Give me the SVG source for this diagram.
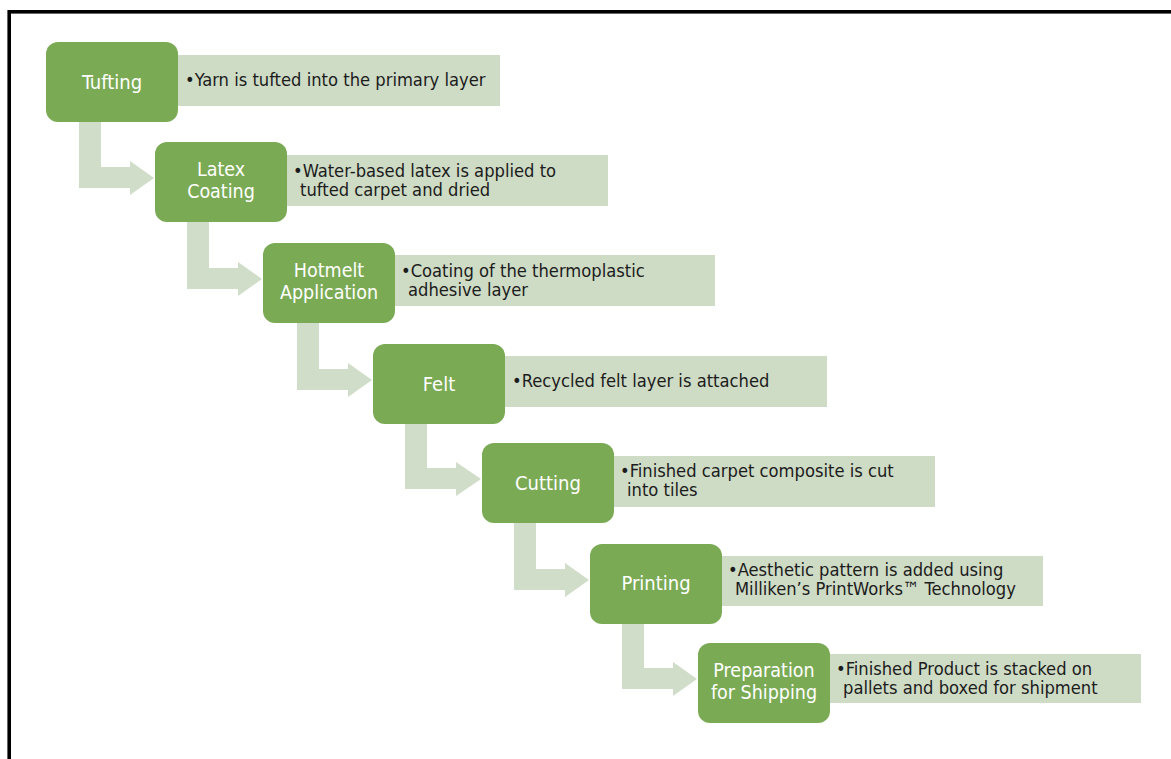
<svg xmlns="http://www.w3.org/2000/svg" width="1171" height="759" viewBox="0 0 1171 759">
<style>
.frame{fill:none;stroke:#000;stroke-width:3.6}
.step{fill:#7BAA55}
.desc{fill:#CEDBC5}
.arrow{fill:#D0DDC9}
.lbl{font-family:"DejaVu Sans Condensed","DejaVu Sans",sans-serif;font-stretch:condensed;font-size:20px;fill:#fff;text-anchor:middle}
.lbl2{font-size:19.5px}
.txt{font-family:"DejaVu Sans Condensed","DejaVu Sans",sans-serif;font-stretch:condensed;font-size:18.2px;fill:#1c1c1c}
</style>
<rect x="0" y="0" width="1171" height="759" fill="#fff"/>
<rect class="frame" x="9.2" y="11.8" width="1200" height="800"/>
<g id="connectors">
<path class="arrow" d="M79,122 L101,122 L101,167 L130,167 L130,161 L154,178 L130,195 L130,188 L79,188 Z"/>
<path class="arrow" d="M187,222 L209,222 L209,268 L238,268 L238,262 L262,279 L238,296 L238,289 L187,289 Z"/>
<path class="arrow" d="M297,323 L319,323 L319,369 L348,369 L348,363 L372,380 L348,397 L348,390 L297,390 Z"/>
<path class="arrow" d="M405,424 L427,424 L427,468 L456,468 L456,462 L481,479 L456,496 L456,489 L405,489 Z"/>
<path class="arrow" d="M514,523 L536,523 L536,569 L565,569 L565,563 L589,580 L565,597 L565,590 L514,590 Z"/>
<path class="arrow" d="M622,624 L644,624 L644,668 L673,668 L673,662 L697,679 L673,696 L673,689 L622,689 Z"/>
</g>
<g id="step-tufting">
<rect class="desc" x="166" y="55" width="334" height="51"/>
<rect class="step" x="46" y="42" width="132" height="80" rx="12"/>
<text class="lbl" x="112" y="89">Tufting</text>
<text class="txt" x="185" y="86">•Yarn is tufted into the primary layer</text>
</g>
<g id="step-latex">
<rect class="desc" x="275" y="155" width="333" height="51"/>
<rect class="step" x="155" y="142" width="132" height="80" rx="12"/>
<text class="lbl lbl2" x="221" y="176">Latex</text>
<text class="lbl lbl2" x="221" y="198">Coating</text>
<text class="txt"><tspan x="293" y="177">•Water-based latex is applied to</tspan><tspan x="300" y="196">tufted carpet and dried</tspan></text>
</g>
<g id="step-hotmelt">
<rect class="desc" x="383" y="255" width="332" height="51"/>
<rect class="step" x="263" y="243" width="132" height="80" rx="12"/>
<text class="lbl lbl2" x="329" y="277">Hotmelt</text>
<text class="lbl lbl2" x="329" y="299">Application</text>
<text class="txt"><tspan x="401" y="277">•Coating of the thermoplastic</tspan><tspan x="408" y="296">adhesive layer</tspan></text>
</g>
<g id="step-felt">
<rect class="desc" x="493" y="356" width="334" height="51"/>
<rect class="step" x="373" y="344" width="132" height="80" rx="12"/>
<text class="lbl" x="439" y="391">Felt</text>
<text class="txt" x="512" y="387">•Recycled felt layer is attached</text>
</g>
<g id="step-cutting">
<rect class="desc" x="602" y="456" width="333" height="51"/>
<rect class="step" x="482" y="443" width="132" height="80" rx="12"/>
<text class="lbl" x="548" y="490">Cutting</text>
<text class="txt"><tspan x="620" y="477">•Finished carpet composite is cut</tspan><tspan x="627" y="496">into tiles</tspan></text>
</g>
<g id="step-printing">
<rect class="desc" x="710" y="556" width="333" height="50"/>
<rect class="step" x="590" y="544" width="132" height="80" rx="12"/>
<text class="lbl" x="656" y="590">Printing</text>
<text class="txt"><tspan x="728" y="576">•Aesthetic pattern is added using</tspan><tspan x="735" y="595">Milliken’s PrintWorks™ Technology</tspan></text>
</g>
<g id="step-shipping">
<rect class="desc" x="818" y="654" width="323" height="49"/>
<rect class="step" x="698" y="643" width="132" height="80" rx="12"/>
<text class="lbl lbl2" x="764" y="677">Preparation</text>
<text class="lbl lbl2" x="764" y="699">for Shipping</text>
<text class="txt"><tspan x="836" y="675">•Finished Product is stacked on</tspan><tspan x="843" y="694">pallets and boxed for shipment</tspan></text>
</g>
</svg>
